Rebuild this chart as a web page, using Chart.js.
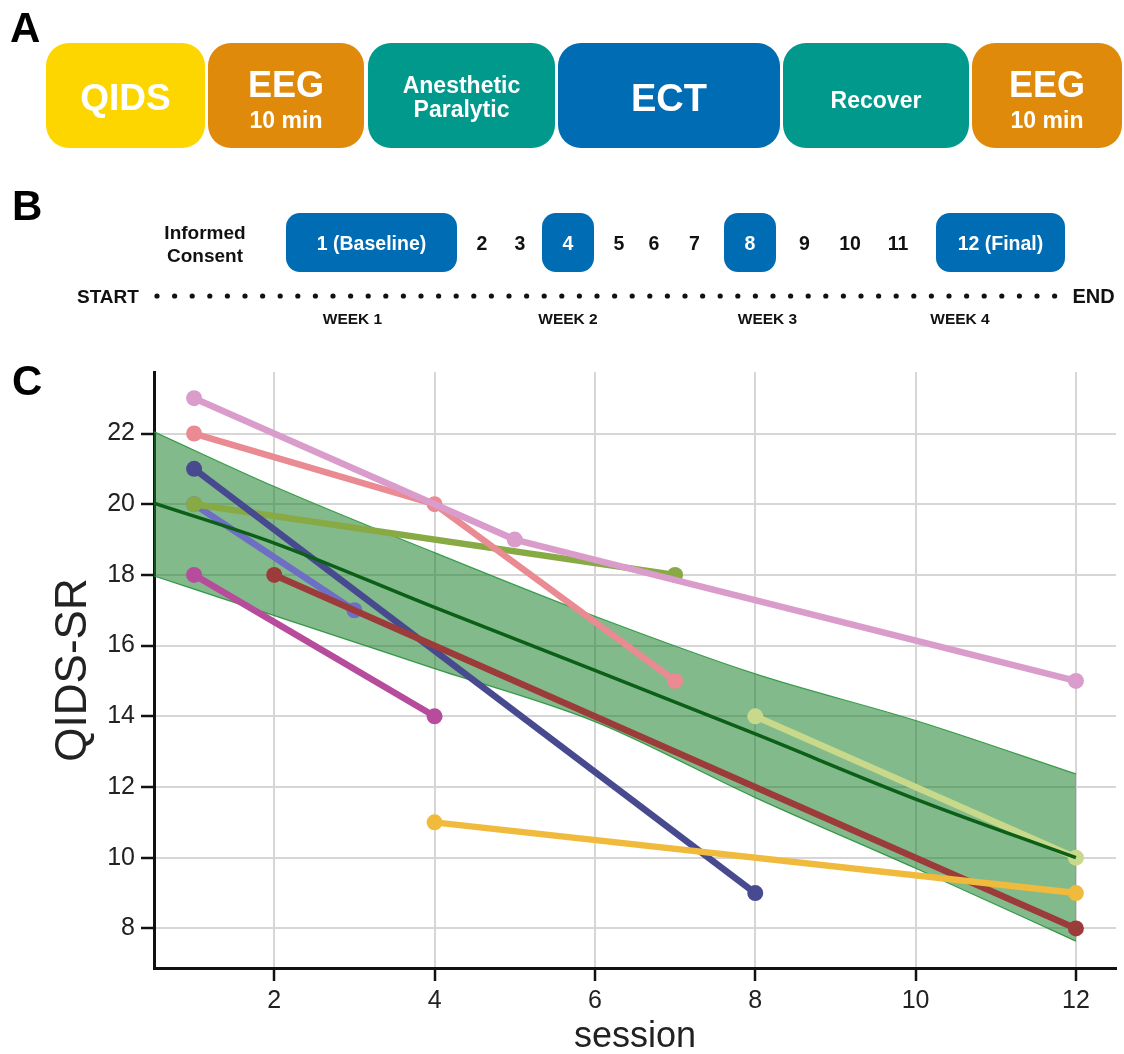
<!DOCTYPE html>
<html><head><meta charset="utf-8">
<script src="https://cdn.jsdelivr.net/npm/chart.js@4.4.1/dist/chart.umd.min.js"></script>
<style>
html,body{margin:0;padding:0;background:#fff;width:1124px;height:1054px;overflow:hidden;}
#c{position:absolute;left:0;top:330px;width:1124px;height:740px;}
#svg{position:absolute;left:0;top:0;}
</style></head><body>
<canvas id="c" width="1124" height="740"></canvas>
<svg id="svg" width="1124" height="1054" xmlns="http://www.w3.org/2000/svg"></svg>
<script>
// ---------- data ----------
const stepLabels = ['QIDS', 'EEG|10 min', 'Anesthetic|Paralytic', 'ECT', 'Recover', 'EEG|10 min'];
const sessionNumbers = ['1 (Baseline)','2','3','4','5','6','7','8','9','10','11','12 (Final)'];
const weekLabels = ['WEEK 1','WEEK 2','WEEK 3','WEEK 4'];

const xTicks = [2, 4, 6, 8, 10, 12];
const yTicks = [8, 10, 12, 14, 16, 18, 20, 22];

const fitSessions = [0.5, 2, 4, 6, 8, 10, 12];
const fitLine  = [20.03, 18.9, 17.08, 15.3, 13.5, 11.66, 10.0];
const fitUpper = [22.05, 20.5, 18.63, 16.83, 15.2, 13.88, 12.37];
const fitLower = [17.97, 16.85, 15.35, 13.85, 11.7, 9.7, 7.64];

const p1Sessions = [1, 5, 12];     const p1Scores = [23, 19, 15];
const p2Sessions = [1, 4, 7];      const p2Scores = [22, 20, 15];
const p3Sessions = [1, 8];         const p3Scores = [21, 9];
const p4Sessions = [1, 7];         const p4Scores = [20, 18];
const p5Sessions = [1, 3];         const p5Scores = [20, 17];
const p6Sessions = [1, 4];         const p6Scores = [18, 14];
const p7Sessions = [2, 12];        const p7Scores = [18, 8];
const p8Sessions = [4, 12];        const p8Scores = [11, 9];
const p9Sessions = [8, 12];        const p9Scores = [14, 10];

// ---------- panels A & B (svg) ----------
const FONT = "'Liberation Sans', Arial, Helvetica, sans-serif";
const NS = 'http://www.w3.org/2000/svg';
const svg = document.getElementById('svg');
function el(tag, attrs, t){ const e=document.createElementNS(NS,tag); for(const k in attrs) e.setAttribute(k,attrs[k]); if(t!==undefined) e.textContent=t; svg.appendChild(e); return e; }
function txt(x,y,s,size,fill,anchor){
  return el('text',{x:x,y:y,'font-size':size,'font-family':'Liberation Sans, Arial, sans-serif','font-weight':'bold',
    fill:fill||'#111','text-anchor':anchor||'middle'},s);
}

txt(10,42,'A',42,'#000','start');
txt(12,220,'B',42,'#000','start');
txt(12,395,'C',42,'#000','start');

const boxesA = [
  {x:46,w:159,c:'#fdd600'},{x:208,w:156,c:'#e08a0c'},{x:368,w:187,c:'#00998b'},
  {x:558,w:222,c:'#006cb4'},{x:783,w:186,c:'#00998b'},{x:972,w:150,c:'#e08a0c'}];
boxesA.forEach((b,i)=>{
  el('rect',{x:b.x,y:43,width:b.w,height:105,rx:23,ry:23,fill:b.c});
  const cx=b.x+b.w/2; const parts=stepLabels[i].split('|');
  const l=stepLabels[i];
  if(l==='QIDS') txt(cx,110,parts[0],37,'#fff');
  else if(l==='ECT') txt(cx,111,parts[0],38,'#fff');
  else if(l==='Recover') txt(cx,108,parts[0],23,'#fff');
  else if(parts[0]==='EEG'){ txt(cx,97,parts[0],36,'#fff'); txt(cx,128,parts[1],23,'#fff'); }
  else { txt(cx,93,parts[0],23,'#fff'); txt(cx,116.5,parts[1],23,'#fff'); }
});

txt(205,238.6,'Informed',19);
txt(205,262,'Consent',19);
const sessPos = [
  {cx:371.5,bx:286,bw:171},{cx:482},{cx:520},{cx:568,bx:542,bw:52},{cx:619},{cx:654},{cx:694.5},
  {cx:750,bx:724,bw:52},{cx:804.5},{cx:850},{cx:898},{cx:1000.5,bx:936,bw:129}];
sessPos.forEach((p,i)=>{
  if(p.bx!==undefined){ el('rect',{x:p.bx,y:213,width:p.bw,height:59,rx:14,ry:14,fill:'#006cb4'}); txt(p.cx,249.5,sessionNumbers[i],19.5,'#fff'); }
  else txt(p.cx,249.5,sessionNumbers[i],19.5,'#111');
});
txt(77,303,'START',19,'#111','start');
txt(1072.5,303,'END',20,'#111','start');
for(let i=0;i<52;i++) el('circle',{cx:157+i*17.6,cy:296,r:2.6,fill:'#111'});
[352.5,568,767.5,960].forEach((x,i)=>txt(x,324,weekLabels[i],15.5,'#111'));

// ---------- panel C (Chart.js) ----------
const pts = (xs, ys) => xs.map((x,i)=>({x:x, y:ys[i]}));
function patient(xs, ys, color, order){
  return {data:pts(xs,ys), borderColor:color, backgroundColor:color, pointBackgroundColor:color,
    pointBorderWidth:0, pointRadius:8, borderWidth:6.5, fill:false, order:order, tension:0};
}
const datasets = [
  {data:pts(fitSessions,fitLine), borderColor:'#0b5f17', borderWidth:3.5, pointRadius:0, fill:false, order:0, cubicInterpolationMode:'monotone'},
  {data:pts(fitSessions,fitUpper), borderColor:'rgba(40,150,60,0.9)', borderWidth:1.2, pointRadius:0, fill:'+1', backgroundColor:'rgba(30,130,45,0.55)', order:100, cubicInterpolationMode:'monotone'},
  {data:pts(fitSessions,fitLower), borderColor:'rgba(40,150,60,0.9)', borderWidth:1.2, pointRadius:0, fill:false, order:101, cubicInterpolationMode:'monotone'},
  patient(p5Sessions,p5Scores,'#6e6ec4',18),
  patient(p4Sessions,p4Scores,'#88aa44',17),
  patient(p3Sessions,p3Scores,'#474a8e',16),
  patient(p6Sessions,p6Scores,'#b64c9b',15),
  patient(p7Sessions,p7Scores,'#9c3c3a',14),
  patient(p8Sessions,p8Scores,'#f0bb3c',13),
  patient(p9Sessions,p9Scores,'#c8d98b',12),
  patient(p2Sessions,p2Scores,'#ea8a92',11),
  patient(p1Sessions,p1Scores,'#d99ccb',10)
];

new Chart(document.getElementById('c'), {
  type:'line',
  data:{datasets:datasets},
  options:{
    responsive:false, animation:false, devicePixelRatio:1,
    layout:{padding:{top:42,right:5,left:0,bottom:0}},
    plugins:{legend:{display:false}, tooltip:{enabled:false}},
    scales:{
      x:{type:'linear', min:0.5, max:12.5,
        afterBuildTicks:s=>{s.ticks=xTicks.map(v=>({value:v}));},
        afterFit:s=>{s.height=102;},
        grid:{color:'#d6d6d6', lineWidth:2, tickColor:'#111', tickWidth:2.5, tickLength:13, drawTicks:true},
        border:{color:'#111', width:3},
        ticks:{font:{family:FONT,size:25}, color:'#222', padding:5, maxRotation:0, autoSkip:false},
        title:{display:true, text:'session', color:'#222', font:{family:FONT,size:36,lineHeight:1}, padding:{top:0,bottom:15}}
      },
      y:{type:'linear', min:6.88, max:23.74,
        afterBuildTicks:s=>{s.ticks=yTicks.map(v=>({value:v}));},
        afterFit:s=>{s.width=154;},
        grid:{color:'#d6d6d6', lineWidth:2, tickColor:'#111', tickWidth:2.5, tickLength:13, drawTicks:true},
        border:{color:'#111', width:3},
        ticks:{font:{family:FONT,size:25}, color:'#222', padding:6, autoSkip:false},
        title:{display:true, text:'QIDS-SR', color:'#222', font:{family:FONT,size:44,lineHeight:1}, padding:{top:51.5,bottom:0}}
      }
    }
  }
});
</script>
</body></html>
